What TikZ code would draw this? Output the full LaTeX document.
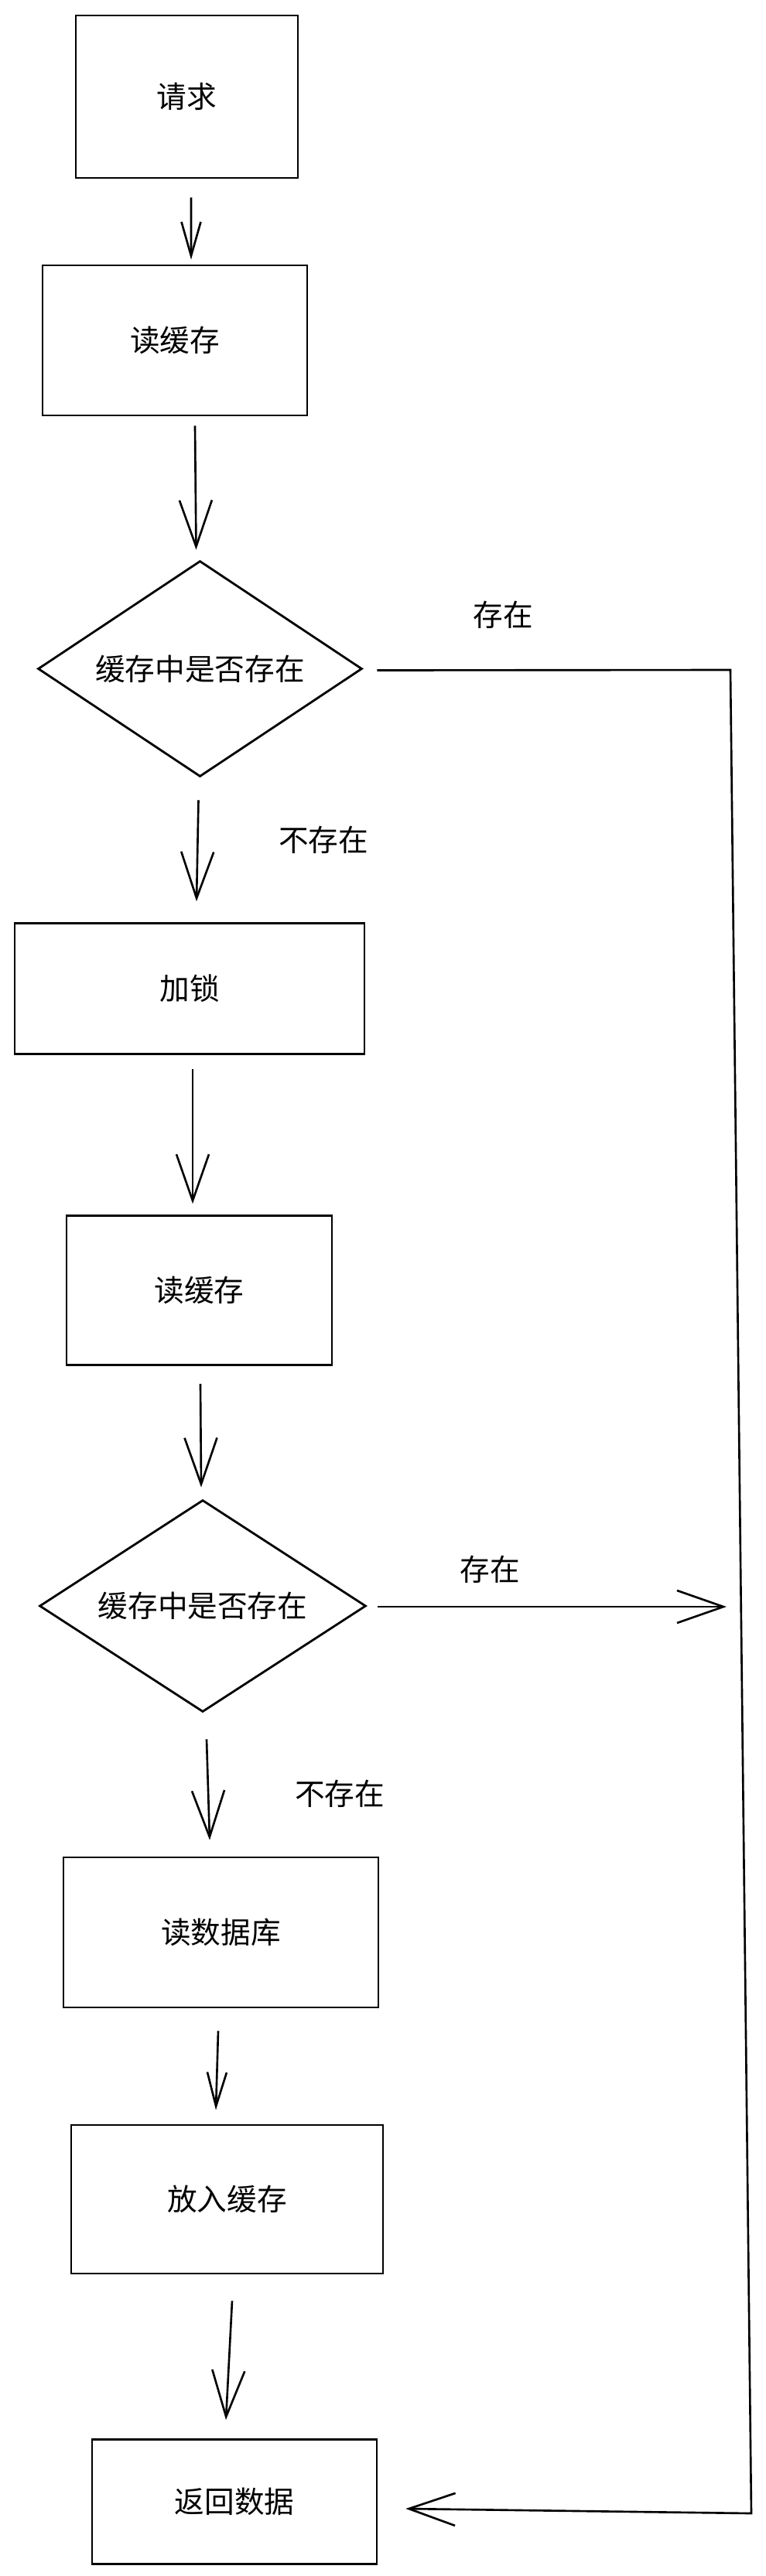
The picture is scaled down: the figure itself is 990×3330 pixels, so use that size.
\documentclass[tikz,border=0pt]{standalone}
\usepackage{fontspec}
\setmainfont{Noto Sans CJK SC}
\usetikzlibrary{shapes.geometric, arrows.meta, calc}
\tikzset{>={Straight Barb[length=12mm,width=8.4mm]}}
\tikzset{box/.style={draw, line width=1.6pt, font=\fontsize{22pt}{26pt}\selectfont},
decision/.style={box, diamond, aspect=1.5, inner sep=0pt},
lbl/.style={font=\fontsize{22pt}{26pt}\selectfont},
arr/.style={->, line width=1.5pt},
arrsmall/.style={line width=1.5pt, -{Straight Barb[length=8.8mm,width=5mm]}}}

\begin{document}
\begin{tikzpicture}[x=0.02cm, y=-0.02cm]
\useasboundingbox (0,0) rectangle (990,3330);
\node[box, minimum width=5.74cm, minimum height=4.2cm] (req) at (241.5,125) {请求};
\node[box, minimum width=6.84cm, minimum height=3.88cm] (rc1) at (226,440) {读缓存};
\node[decision, minimum width=8.38cm, minimum height=5.58cm] (dia1) at (258.5,864.5) {缓存中是否存在};
\node[box, minimum width=9.04cm, minimum height=3.38cm] (lock) at (245,1278) {加锁};
\node[box, minimum width=6.86cm, minimum height=3.86cm] (rc2) at (257.5,1668) {读缓存};
\node[decision, minimum width=8.44cm, minimum height=5.48cm] (dia2) at (262,2076) {缓存中是否存在};
\node[box, minimum width=8.14cm, minimum height=3.88cm] (db) at (285.5,2498) {读数据库};
\node[box, minimum width=8.06cm, minimum height=3.84cm] (put) at (293.5,2843) {放入缓存};
\node[box, minimum width=7.36cm, minimum height=3.22cm] (ret) at (303,3234) {返回数据};
\node[lbl] (yes1) at (650,795) {存在};
\node[lbl] (no1) at (418,1086) {不存在};
\node[lbl] (yes2) at (633,2029) {存在};
\node[lbl] (no2) at (439,2319) {不存在};
\coordinate (C1) at (944,866);
\coordinate (C2) at (971,3249);
\coordinate (H) at (939,2077);
\draw[arrsmall] ($(req.south)+(5.5,24)$) -- ($(rc1.north)+(21,-6)$);
\draw[arr] ($(rc1.south)+(26,12)$) -- ($(dia1.north)+(-5,-13)$);
\draw[arr] ($(dia1.south)+(-2,29)$) -- ($(lock.north)+(9,-27)$);
\draw[arr] ($(lock.south)+(4,18)$) -- ($(rc2.north)+(-8.5,-14)$);
\draw[arr] ($(rc2.south)+(1.5,23)$) -- ($(dia2.north)+(-2,-15)$);
\draw[arr] ($(dia2.south)+(5,34)$) -- ($(db.north)+(-14.5,-21)$);
\draw[arrsmall] ($(db.south)+(-3.5,29)$) -- ($(put.north)+(-14.5,-18)$);
\draw[arr] ($(put.south)+(6.5,34)$) -- ($(ret.north)+(-11,-24)$);
\draw[arr] ($(dia2.east)+(14,1)$) -- (H);
\draw[arr] ($(dia1.east)+(18,2)$) -- (C1) -- (C2) -- ($(ret.east)+(36,9)$);
\end{tikzpicture}
\end{document}
